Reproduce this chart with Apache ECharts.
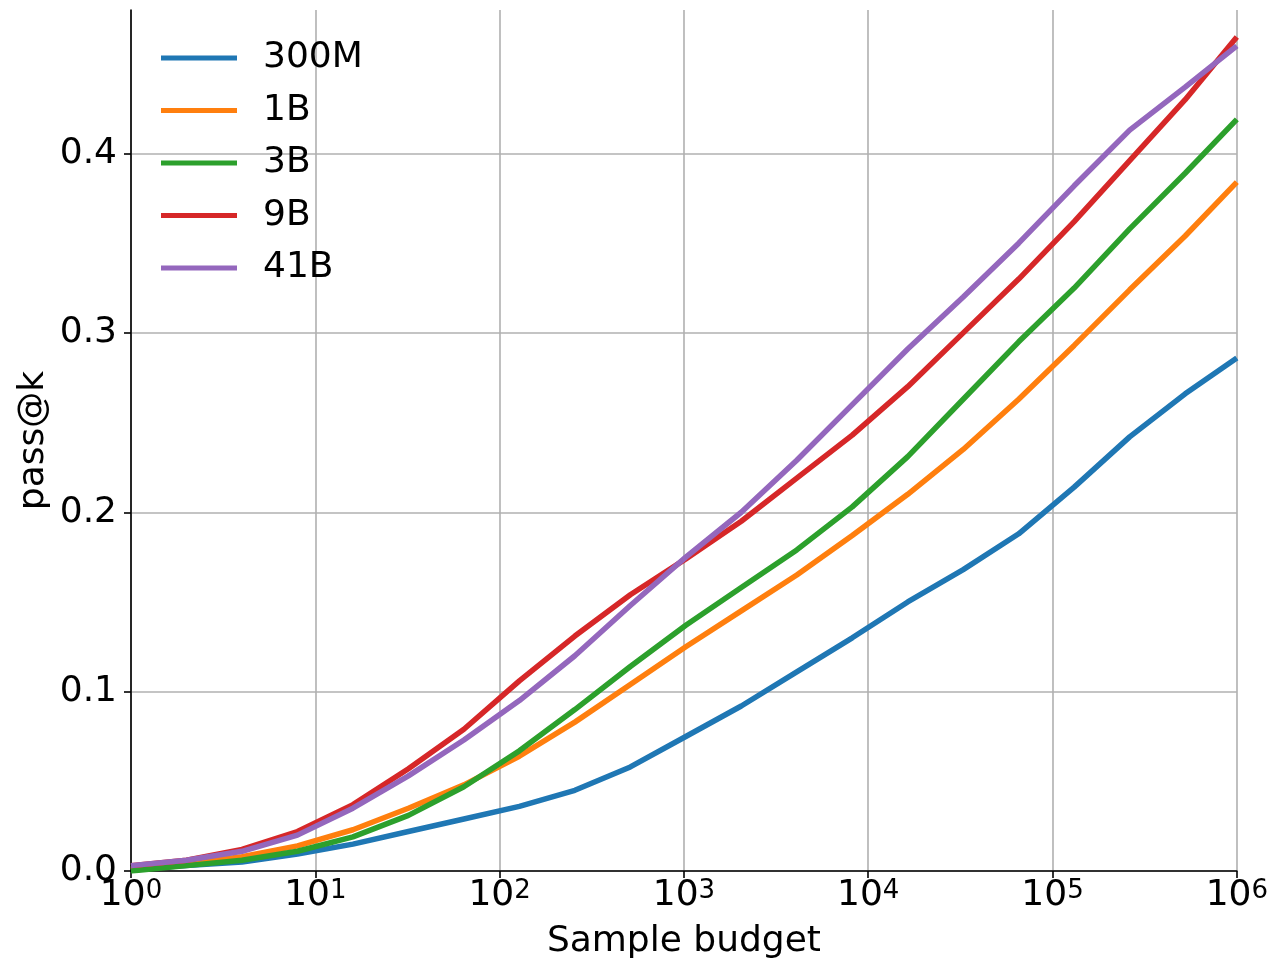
<!DOCTYPE html>
<html>
<head>
<meta charset="utf-8">
<script src="https://cdn.jsdelivr.net/npm/echarts@6/dist/echarts.min.js"></script>
<style>
  html, body { margin: 0; padding: 0; background: #fff; }
  #chart { width: 1271px; height: 965px; }
</style>
</head>
<body>
<div id="chart"></div>
<script>
// sample budget: powers of two, last point at the axis end
const budgets = [1, 2, 4, 8, 16, 32, 64, 128, 256, 512, 1024, 2048, 4096, 8192,
  16384, 32768, 65536, 131072, 262144, 524288, 1000000];

const names = ["300M", "1B", "3B", "9B", "41B"];
const colors = ["#1f77b4", "#ff7f0e", "#2ca02c", "#d62728", "#9467bd"];

// pass@k
const pass300M = [0.001, 0.003, 0.005, 0.0095, 0.015, 0.022, 0.029, 0.036, 0.045, 0.058, 0.075,
  0.092, 0.111, 0.130, 0.150, 0.168, 0.188, 0.214, 0.242, 0.266, 0.286];
const pass1B = [0.001, 0.004, 0.008, 0.014, 0.023, 0.035, 0.048, 0.064, 0.083, 0.104, 0.125,
  0.145, 0.165, 0.187, 0.210, 0.235, 0.263, 0.293, 0.324, 0.354, 0.384];
const pass3B = [0.000, 0.003, 0.006, 0.011, 0.019, 0.031, 0.047, 0.067, 0.090, 0.114, 0.137,
  0.158, 0.179, 0.203, 0.231, 0.263, 0.295, 0.325, 0.358, 0.389, 0.419];
const pass9B = [0.003, 0.006, 0.012, 0.022, 0.037, 0.057, 0.079, 0.106, 0.131, 0.154, 0.174,
  0.195, 0.219, 0.243, 0.270, 0.300, 0.330, 0.362, 0.396, 0.430, 0.465];
const pass41B = [0.003, 0.006, 0.011, 0.020, 0.035, 0.053, 0.073, 0.095, 0.120, 0.148, 0.175,
  0.200, 0.229, 0.260, 0.291, 0.320, 0.350, 0.382, 0.413, 0.437, 0.460];

const yTicks = [0, 0.1, 0.2, 0.3, 0.4];
const xTickExps = [0, 1, 2, 3, 4, 5, 6];

const allSeries = [pass300M, pass1B, pass3B, pass9B, pass41B];
const font = "DejaVu Sans";
const fs = 36;

let chart = echarts.init(document.getElementById("chart"));
let option = {
  animation: false,
  grid: { left: 131, right: 34, top: 10, bottom: 94, containLabel: false },
  legend: {
    orient: "vertical",
    left: 156,
    top: 35,
    icon: "rect",
    itemWidth: 76,
    itemHeight: 5,
    itemGap: 16.5,
    data: names,
    textStyle: {
      fontFamily: font, fontSize: fs, color: "#000",
      lineHeight: 36, padding: [0, 0, 0, 21],
    },
  },
  xAxis: {
    type: "log",
    logBase: 10,
    min: 1,
    max: 1000000,
    name: "Sample budget",
    nameLocation: "middle",
    nameGap: 53,
    nameMoveOverlap: false,
    nameTextStyle: { fontFamily: font, fontSize: fs, color: "#000" },
    axisLine: { lineStyle: { color: "#000", width: 1.6 } },
    axisTick: { show: true, length: 7, lineStyle: { color: "#000", width: 1.6 } },
    minorTick: { show: false },
    splitLine: { show: true, lineStyle: { color: "#b0b0b0", width: 1.6 } },
    axisLabel: {
      margin: 7,
      showMinLabel: true,
      showMaxLabel: true,
      formatter: function (v) {
        let e = Math.round(Math.log10(v));
        if (xTickExps.indexOf(e) < 0) return "";
        return "{b|10}{sup|" + e + "}";
      },
      fontFamily: font, fontSize: fs, color: "#000",
      rich: {
        b: { fontFamily: font, fontSize: fs, lineHeight: 36, color: "#000" },
        sup: { fontFamily: font, fontSize: 26, lineHeight: 26, color: "#000", verticalAlign: "top" },
      },
    },
  },
  yAxis: {
    type: "value",
    min: 0,
    max: 0.48,
    interval: 0.1,
    name: "pass@k",
    nameLocation: "middle",
    nameGap: 79,
    nameMoveOverlap: false,
    nameTextStyle: { fontFamily: font, fontSize: fs, color: "#000" },
    axisLine: { show: true, lineStyle: { color: "#000", width: 1.6 } },
    axisTick: { show: true, length: 7, customValues: yTicks, lineStyle: { color: "#000", width: 1.6 } },
    splitLine: { show: true, lineStyle: { color: "#b0b0b0", width: 1.6 } },
    axisLabel: {
      margin: 14,
      customValues: yTicks,
      formatter: function (v) { return v.toFixed(1); },
      fontFamily: font, fontSize: fs, color: "#000",
    },
  },
  series: names.map(function (n, i) {
    return {
      name: n,
      type: "line",
      symbol: "none",
      clip: true,
      color: colors[i],
      lineStyle: { width: 5.5, color: colors[i] },
      data: budgets.map(function (b, j) { return [b, allSeries[i][j]]; }),
    };
  }),
};
chart.setOption(option);
</script>
</body>
</html>
